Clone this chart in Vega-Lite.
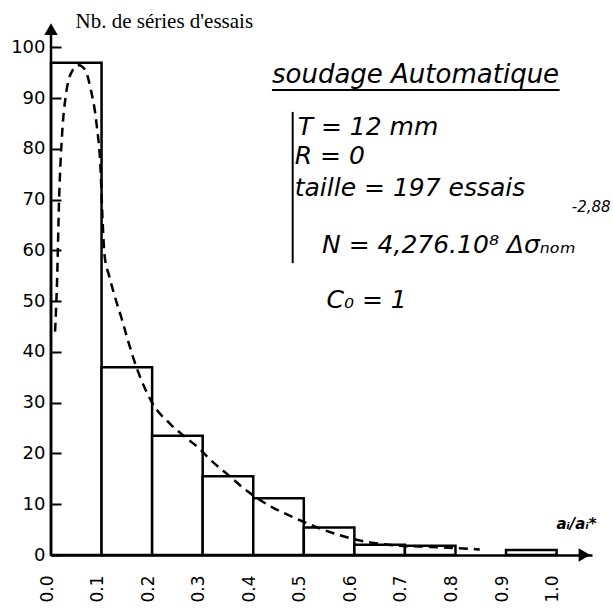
{
  "$schema": "https://vega.github.io/schema/vega-lite/v6.json",
  "width": 541,
  "height": 538,
  "autosize": {"type": "none"},
  "padding": {"left": 51, "top": 17, "right": 21, "bottom": 57},
  "background": "white",
  "config": {"view": {"stroke": null}},
  "datasets": {
    "bins": [
      {"x": 0.0, "x_end": 0.1, "y": 97},
      {"x": 0.1, "x_end": 0.2, "y": 37},
      {"x": 0.2, "x_end": 0.3, "y": 23.5},
      {"x": 0.3, "x_end": 0.4, "y": 15.5},
      {"x": 0.4, "x_end": 0.5, "y": 11.2},
      {"x": 0.5, "x_end": 0.6, "y": 5.4},
      {"x": 0.6, "x_end": 0.7, "y": 2},
      {"x": 0.7, "x_end": 0.8, "y": 1.8},
      {"x": 0.9, "x_end": 1.0, "y": 1}
    ],
    "curve": [
      {"x": 0.008, "y": 44},
      {"x": 0.012, "y": 54},
      {"x": 0.016, "y": 70},
      {"x": 0.022, "y": 83},
      {"x": 0.03, "y": 91},
      {"x": 0.04, "y": 95},
      {"x": 0.055, "y": 96.5},
      {"x": 0.068, "y": 95.5},
      {"x": 0.078, "y": 92},
      {"x": 0.09, "y": 85},
      {"x": 0.098, "y": 76},
      {"x": 0.102, "y": 66},
      {"x": 0.106, "y": 59},
      {"x": 0.115, "y": 55},
      {"x": 0.126, "y": 51},
      {"x": 0.14, "y": 46.5},
      {"x": 0.153, "y": 42},
      {"x": 0.169, "y": 37},
      {"x": 0.185, "y": 33},
      {"x": 0.2, "y": 30},
      {"x": 0.236, "y": 25.8},
      {"x": 0.266, "y": 23.2},
      {"x": 0.293, "y": 21},
      {"x": 0.316, "y": 18.7},
      {"x": 0.35, "y": 15.8},
      {"x": 0.388, "y": 12.6},
      {"x": 0.434, "y": 9.6},
      {"x": 0.48, "y": 7.4},
      {"x": 0.525, "y": 5.5},
      {"x": 0.571, "y": 3.9},
      {"x": 0.624, "y": 2.6},
      {"x": 0.68, "y": 1.9},
      {"x": 0.75, "y": 1.6},
      {"x": 0.848, "y": 1.1}
    ],
    "arrows": [
      {"x": 0, "y": 103.6, "dir": "up"},
      {"x": 1.055, "y": 0, "dir": "right"}
    ],
    "axisline": [
      {"x": 0, "y": 0, "y_end": 104}
    ],
    "notes": [
      {"x": 0.437, "y": 93.0, "kind": "head", "text": "soudage Automatique"},
      {"x": 0.488, "y": 84.3, "kind": "body", "text": "T = 12 mm"},
      {"x": 0.482, "y": 78.6, "kind": "body", "text": "R = 0"},
      {"x": 0.482, "y": 72.3, "kind": "body", "text": "taille = 197 essais"},
      {"x": 0.536, "y": 61.1, "kind": "body", "text": "N = 4,276.10⁸ Δσₙₒₘ"},
      {"x": 0.545, "y": 50.2, "kind": "body", "text": "C₀ = 1"},
      {"x": 1.03, "y": 68.6, "kind": "sup", "text": "-2,88"}
    ],
    "lines": [
      {"x": 0.437, "x_end": 1.006, "y": 91.6, "y_end": 91.6},
      {"x": 0.478, "x_end": 0.478, "y": 87.3, "y_end": 57.5}
    ]
  },
  "layer": [
    {
      "data": {"name": "bins"},
      "mark": {"type": "rect", "fill": "white", "stroke": "black", "strokeWidth": 2.5},
      "encoding": {
        "x": {
          "field": "x", "type": "quantitative",
          "scale": {"domain": [0, 1.07], "nice": false, "zero": false},
          "axis": {
            "title": "aᵢ/aᵢ*",
            "titleX": 525, "titleY": -32, "titleAlign": "center", "titleBaseline": "middle",
            "titleFont": "DejaVu Sans", "titleFontStyle": "italic", "titleFontWeight": "bold", "titleFontSize": 15, "titleColor": "black",
            "values": [0, 0.1, 0.2, 0.3, 0.4, 0.5, 0.6, 0.7, 0.8, 0.9, 1.0],
            "format": ".1f",
            "labelAngle": 270, "labelAlign": "right", "labelBaseline": "middle",
            "labelPadding": 20, "labelOffset": -4,
            "labelFont": "DejaVu Sans", "labelFontSize": 17, "labelColor": "black",
            "ticks": false, "grid": false, "zindex": 1,
            "domainColor": "black", "domainWidth": 2.5
          }
        },
        "x2": {"field": "x_end"},
        "y": {
          "field": "y", "type": "quantitative",
          "scale": {"domain": [0, 106], "nice": false, "zero": false},
          "axis": {
            "title": "Nb. de séries d'essais",
            "titleAngle": 0, "titleX": 14, "titleY": 4, "titleAlign": "left", "titleBaseline": "middle",
            "titleFont": "Liberation Serif", "titleFontWeight": "normal", "titleFontSize": 21, "titleColor": "black",
            "values": [0, 10, 20, 30, 40, 50, 60, 70, 80, 90, 100],
            "labelFont": "DejaVu Sans", "labelFontSize": 18, "labelColor": "black",
            "offset": -10, "domain": false, "zindex": 1,
            "tickSize": 10, "tickColor": "black", "tickWidth": 2,
            "labelPadding": 6, "grid": false
          }
        },
        "y2": {"datum": 0}
      }
    },
    {
      "data": {"name": "axisline"},
      "mark": {"type": "rule", "color": "black", "strokeWidth": 2.5},
      "encoding": {
        "x": {"field": "x", "type": "quantitative"},
        "y": {"field": "y", "type": "quantitative"},
        "y2": {"field": "y_end"}
      }
    },
    {
      "data": {"name": "curve"},
      "mark": {"type": "line", "color": "black", "strokeWidth": 2.5, "strokeDash": [9, 6], "interpolate": "monotone"},
      "encoding": {
        "x": {"field": "x", "type": "quantitative"},
        "y": {"field": "y", "type": "quantitative"}
      }
    },
    {
      "data": {"name": "arrows"},
      "transform": [{"filter": "datum.dir == 'up'"}],
      "mark": {"type": "point", "shape": "triangle-up", "filled": true, "color": "black", "size": 180, "opacity": 1},
      "encoding": {
        "x": {"field": "x", "type": "quantitative"},
        "y": {"field": "y", "type": "quantitative"}
      }
    },
    {
      "data": {"name": "arrows"},
      "transform": [{"filter": "datum.dir == 'right'"}],
      "mark": {"type": "point", "shape": "triangle-right", "filled": true, "color": "black", "size": 180, "opacity": 1},
      "encoding": {
        "x": {"field": "x", "type": "quantitative"},
        "y": {"field": "y", "type": "quantitative"}
      }
    },
    {
      "data": {"name": "lines"},
      "mark": {"type": "rule", "color": "black", "strokeWidth": 2},
      "encoding": {
        "x": {"field": "x", "type": "quantitative"},
        "x2": {"field": "x_end"},
        "y": {"field": "y", "type": "quantitative"},
        "y2": {"field": "y_end"}
      }
    },
    {
      "data": {"name": "notes"},
      "transform": [{"filter": "datum.kind == 'head'"}],
      "mark": {"type": "text", "align": "left", "baseline": "alphabetic", "font": "DejaVu Sans", "fontStyle": "italic", "fontSize": 26, "color": "black"},
      "encoding": {
        "x": {"field": "x", "type": "quantitative"},
        "y": {"field": "y", "type": "quantitative"},
        "text": {"field": "text"}
      }
    },
    {
      "data": {"name": "notes"},
      "transform": [{"filter": "datum.kind == 'body'"}],
      "mark": {"type": "text", "align": "left", "baseline": "middle", "font": "DejaVu Sans", "fontStyle": "italic", "fontSize": 25, "color": "black"},
      "encoding": {
        "x": {"field": "x", "type": "quantitative"},
        "y": {"field": "y", "type": "quantitative"},
        "text": {"field": "text"}
      }
    },
    {
      "data": {"name": "notes"},
      "transform": [{"filter": "datum.kind == 'sup'"}],
      "mark": {"type": "text", "align": "left", "baseline": "middle", "font": "DejaVu Sans", "fontStyle": "italic", "fontSize": 15, "color": "black"},
      "encoding": {
        "x": {"field": "x", "type": "quantitative"},
        "y": {"field": "y", "type": "quantitative"},
        "text": {"field": "text"}
      }
    }
  ]
}
